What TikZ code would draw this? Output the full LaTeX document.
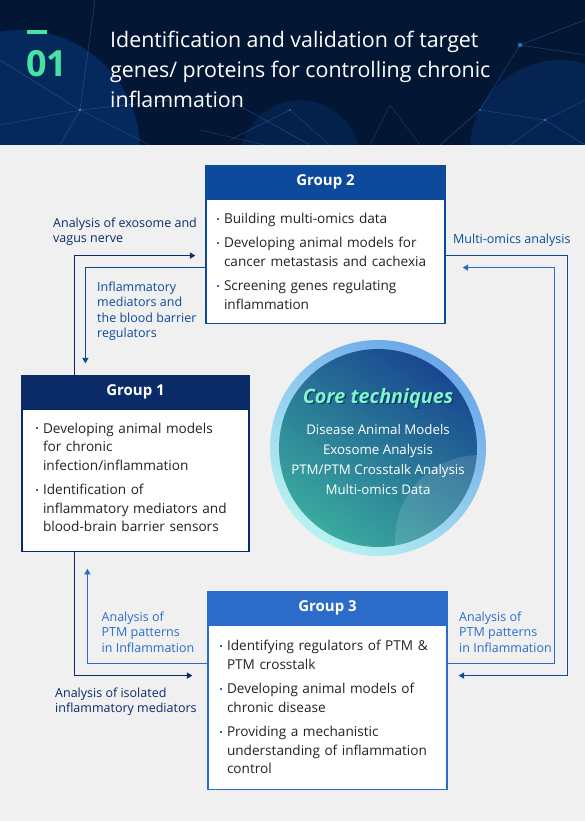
\documentclass[tikz,border=0pt]{standalone}
\usepackage{fontspec}
\setmainfont{Open Sans}
\usetikzlibrary{arrows.meta, positioning}

\definecolor{headbg}{HTML}{031634}
\definecolor{glow}{HTML}{0B4EA8}
\definecolor{netline}{HTML}{3C7FD8}
\definecolor{pagebg}{HTML}{F0F0F0}
\definecolor{mint}{HTML}{46E3A4}
\definecolor{gonenavy}{HTML}{0B2A68}
\definecolor{gtwoblue}{HTML}{0D4A9C}
\definecolor{gthreeblue}{HTML}{2B6CC8}
\definecolor{bulblue}{HTML}{2B6CC8}
\definecolor{bodytext}{HTML}{222222}
\definecolor{ringA}{HTML}{6AA6EA}
\definecolor{ringB}{HTML}{B8F2F2}
\definecolor{coreA}{HTML}{194790}
\definecolor{coreB}{HTML}{3AAA9E}
\definecolor{coremint}{HTML}{7FF5C8}
\definecolor{coreshadow}{HTML}{0A2D62}

\newcommand{\bul}[1]{\hangindent=7pt\hangafter=1\noindent\makebox[7pt][l]{\textcolor{bulblue}{\rule[3.6pt]{2.2pt}{2.2pt}}}#1\par}

\begin{document}
\begin{tikzpicture}[x=1pt, y=-1pt,
  grouphead/.style={draw=#1, fill=#1, line width=1.2pt, minimum height=32pt, inner sep=0pt, text=white, font=\fontsize{15}{18}\selectfont\bfseries},
  groupbody/.style={draw=#1, fill=white, line width=1.2pt, align=left, text=bodytext, font=\fontsize{13.6}{18.5}\selectfont, inner ysep=0pt, execute at begin node={\setlength{\parskip}{6pt}}},
  flow/.style={draw=#1, line width=1.2pt, -{Triangle[length=5.5pt,width=6pt]}},
  flowlabel/.style={text=#1, anchor=north west, inner sep=0pt, align=left, font=\fontsize{12.5}{15.5}\selectfont},
  corelist/.style={text=white, align=center, inner sep=0pt, font=\fontsize{13.3}{20}\selectfont}
]
\useasboundingbox (0,0) rectangle (585,821);

% page and header band
\fill[pagebg] (0,0) rectangle (585,821);
\fill[headbg] (0,0) rectangle (585,145);
\begin{scope}
  \clip (0,0) rectangle (585,145);
  \fill[glow, opacity=0.35] (20,150) circle (120);
  \fill[glow, opacity=0.25] (560,150) circle (90);
  \fill[glow, opacity=0.2] (300,160) circle (60);
  \draw[netline, opacity=0.45, line width=0.5pt] (0,60) -- (80,110) -- (220,95) -- (310,145);
  \draw[netline, opacity=0.45, line width=0.5pt] (95,0) -- (80,110) -- (60,145);
  \draw[netline, opacity=0.35, line width=0.5pt] (0,125) -- (80,110) -- (150,145);
  \draw[netline, opacity=0.35, line width=0.5pt] (200,130) -- (265,145) (230,140) -- (290,110) -- (330,145);
  \draw[netline, opacity=0.45, line width=0.5pt] (520,45) -- (585,55) (520,45) -- (585,20) (520,45) -- (480,110) -- (440,145);
  \draw[netline, opacity=0.4, line width=0.5pt] (480,110) -- (545,120) -- (585,100) (545,120) -- (510,145) (545,120) -- (585,145);
  \draw[netline, opacity=0.35, line width=0.5pt] (390,105) -- (420,145) (390,105) -- (370,145);
  \fill[netline, opacity=0.8] (80,110) circle (1.6) (520,45) circle (2.2) (545,120) circle (1.4) (480,110) circle (1.2) (290,110) circle (1.2);
\end{scope}

% title
\fill[mint] (27,30) rectangle (47,34);
\node[anchor=base west, inner sep=0pt, text=mint, font=\fontsize{36}{40}\selectfont\bfseries] (num) at (26,77) {01};
\node[anchor=north west, inner sep=0pt, align=left, text=white, font=\fontsize{21.4}{30}\selectfont] (title) at (110,31)
  {Identification and validation of target\\genes/ proteins for controlling chronic\\inflammation};

% core techniques
\shade[top color=ringA, bottom color=ringB, shading angle=-35] (378,448) circle (108);
\shade[top color=coreA, bottom color=coreB, shading angle=-35] (378,448) circle (99);
\begin{scope}
  \clip (378,448) circle (99);
  \fill[white, opacity=0.13] (480,540) circle (85);
\end{scope}
\node[anchor=base, inner sep=0pt, text=coreshadow, opacity=0.8, font=\fontsize{19.8}{22}\selectfont\bfseries\itshape] at (379.5,404.5) {Core techniques};
\node[anchor=base, inner sep=0pt, text=coremint, font=\fontsize{19.8}{22}\selectfont\bfseries\itshape] (coreT) at (378,403) {Core techniques};
\node[corelist, anchor=north] (coreL) at (378,424)
  {Disease Animal Models\\Exosome Analysis\\PTM/PTM Crosstalk Analysis\\Multi-omics Data};

% groups
\node[grouphead=gtwoblue, minimum width=239pt] (g2h) at (325.5,182) {Group 2};
\node[groupbody=gtwoblue, below=0pt of g2h, text width=217pt, inner xsep=11pt, minimum height=124pt] (g2b)
  {\bul{Building multi-omics data}
   \bul{Developing animal models for\newline cancer metastasis and cachexia}
   \bul{Screening genes regulating\newline inflammation}};

\node[grouphead=gonenavy, minimum width=227pt] (g1h) at (135.5,392) {Group 1};
\node[groupbody=gonenavy, below=0pt of g1h, text width=199pt, inner xsep=14pt, minimum height=142pt] (g1b)
  {\bul{Developing animal models\newline for chronic\newline infection/inflammation}
   \bul{Identification of\newline inflammatory mediators and\newline blood-brain barrier sensors}
   \vspace{6pt}};

\node[grouphead=gthreeblue, minimum width=239pt] (g3h) at (327.5,608) {Group 3};
\node[groupbody=gthreeblue, below=0pt of g3h, text width=215pt, inner xsep=12pt, minimum height=164pt] (g3b)
  {\bul{Identifying regulators of PTM \&\newline PTM crosstalk}
   \bul{Developing animal models of\newline chronic disease}
   \bul{Providing a mechanistic\newline understanding of inflammation\newline control}};

% flows between the groups
\draw[flow=gonenavy] ([xshift=53pt]g1h.north west) |- ([xshift=-10pt,yshift=-57pt]g2b.north west);
\draw[flow=gtwoblue] ([yshift=-69pt]g2b.north west) -| ([xshift=64pt,yshift=12pt]g1h.north west);
\draw[flow=gtwoblue] ([yshift=-57pt]g2b.north east) -- ++(122,0) |- ([xshift=11pt,yshift=-51pt]g3b.north east);
\draw[flow=gthreeblue] ([yshift=-39pt]g3b.north east) -- ++(107,0) |- ([xshift=17pt,yshift=-69pt]g2b.north east);
\draw[flow=gonenavy] ([xshift=53pt]g1b.south west) |- ([xshift=-15pt,yshift=-51pt]g3b.north west);
\draw[flow=gthreeblue] ([yshift=-39pt]g3b.north west) -| ([xshift=66pt,yshift=-17pt]g1b.south west);

% flow labels
\node[flowlabel=gonenavy] (lexo) at (53,217.5) {Analysis of exosome and\\vagus nerve};
\node[flowlabel=gtwoblue] (lmed) at (97,281.5) {Inflammatory\\mediators and\\the blood barrier\\regulators};
\node[flowlabel=gtwoblue] (lomics) at (453,233.5) {Multi-omics analysis};
\node[flowlabel=gthreeblue] (lptmR) at (459,611.5) {Analysis of\\PTM patterns\\in Inflammation};
\node[flowlabel=gthreeblue] (lptmL) at (101.5,611.5) {Analysis of\\PTM patterns\\in Inflammation};
\node[flowlabel=gonenavy] (liso) at (55,687.5) {Analysis of isolated\\inflammatory mediators};
\end{tikzpicture}
\end{document}
